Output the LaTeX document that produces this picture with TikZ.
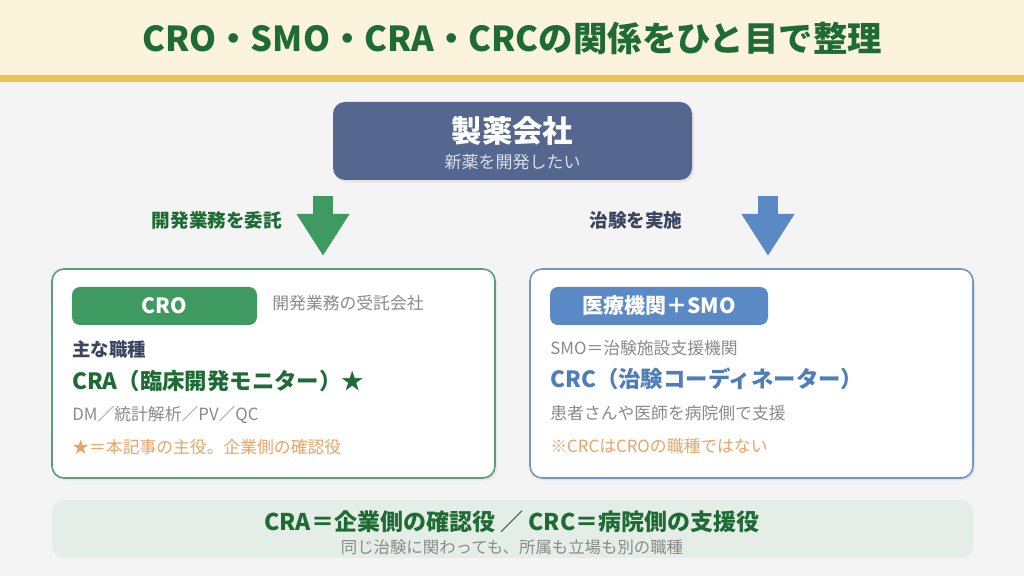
\documentclass[tikz,border=0pt]{standalone}
\usepackage{fontspec}
\setmainfont{Noto Sans CJK JP}
\usepackage{tikz}
\usetikzlibrary{positioning,arrows.meta,shadows}
\definecolor{titlegreen}{HTML}{1F6B36}
\definecolor{headbg}{HTML}{FBF3DB}
\definecolor{headline}{HTML}{EBC453}
\definecolor{pagebg}{HTML}{F3F4F3}
\definecolor{pharma}{HTML}{55668F}
\definecolor{pharmasub}{HTML}{D9DEEA}
\definecolor{crogreen}{HTML}{3F9A62}
\definecolor{smoblue}{HTML}{5B89C5}
\definecolor{inkslate}{HTML}{3A4560}
\definecolor{softgray}{HTML}{8A8A8A}
\definecolor{noteorange}{HTML}{E9A466}
\definecolor{crcblue}{HTML}{4E7DB9}
\definecolor{summarybg}{HTML}{E4EEE6}
\definecolor{cardgreen}{HTML}{5A9E72}
\definecolor{cardblue}{HTML}{7097C8}
\tikzset{
  softshadow/.style={drop shadow={opacity=0.12, shadow xshift=1pt, shadow yshift=-1.2pt}},
  pharmabox/.style={rounded corners=6pt, fill=pharma, minimum width=179.5pt, minimum height=39pt, inner sep=0pt, softshadow},
  cardbox/.style={draw, rounded corners=6pt, fill=white, line width=0.8pt, minimum width=221.5pt, minimum height=104.5pt, inner sep=0pt, softshadow},
  pillbox/.style={rounded corners=4pt, minimum height=19pt, inner sep=0pt, text=white, font=\bfseries\fontsize{10.5}{12}\selectfont},
  summarybox/.style={rounded corners=6pt, fill=summarybg, minimum width=460.5pt, minimum height=29pt, inner sep=0pt},
  bigarrow/.style={line width=10pt, -{Triangle[width=25pt,length=21pt]}},
  flowlabel/.style={inner sep=0pt, font=\bfseries\fontsize{9.3}{11}\selectfont},
  bodytext/.style={anchor=west, inner sep=0pt, text=softgray, font=\fontsize{8.4}{10}\selectfont},
  notetext/.style={bodytext, text=noteorange},
  roletext/.style={anchor=west, inner sep=0pt, font=\bfseries\fontsize{11.2}{13}\selectfont}
}
\begin{document}
\begin{tikzpicture}[x=0.5pt, y=-0.5pt]
  \useasboundingbox (0,0) rectangle (1024,576);
  \fill[pagebg] (0,0) rectangle (1024,576);
  \fill[headbg] (0,0) rectangle (1024,75);
  \fill[headline] (0,75) rectangle (1024,82);
  \node[inner sep=0pt, text=titlegreen, font=\bfseries\fontsize{17.2}{19}\selectfont] (title) at (512,38) {CRO・SMO・CRA・CRCの関係をひと目で整理};

  % sponsor
  \node[pharmabox] (pharma) at (512.5,141) {};
  \node[inner sep=0pt, text=white, font=\bfseries\fontsize{15.2}{17}\selectfont] (pharmaname) at (512.5,131) {製薬会社};
  \node[inner sep=0pt, text=pharmasub, font=\fontsize{8.5}{10}\selectfont] (pharmawish) at (512.5,162) {新薬を開発したい};

  % the two flows
  \coordinate (gtop) at (323,196);
  \coordinate (gtip) at (323,256);
  \coordinate (btop) at (768,196);
  \coordinate (btip) at (768,256);
  \draw[bigarrow, crogreen] (gtop) -- (gtip);
  \draw[bigarrow, smoblue] (btop) -- (btip);
  \node[flowlabel, text=titlegreen] (entrust) at (217,220) {開発業務を委託};
  \node[flowlabel, text=inkslate] (conduct) at (636,220) {治験を実施};

  % CRO card
  \node[cardbox, draw=cardgreen] (crocard) at (273.5,373.5) {};
  \node[pillbox, fill=crogreen, minimum width=92.5pt] (cropill) at (164.5,306) {CRO};
  \node[bodytext] (crodesc) at (272,303) {開発業務の受託会社};
  \node[anchor=west, inner sep=0pt, text=inkslate, font=\bfseries\fontsize{9.2}{11}\selectfont] (jobs) at (72,349) {主な職種};
  \node[roletext, text=titlegreen] (cra) at (72,381) {CRA（臨床開発モニター）★};
  \node[bodytext] (others) at (72,415) {DM／統計解析／PV／QC};
  \node[notetext] (cranote) at (72,447) {★＝本記事の主役。企業側の確認役};

  % site card
  \node[cardbox, draw=cardblue] (sitecard) at (751.5,373.5) {};
  \node[pillbox, fill=smoblue, minimum width=109pt] (sitepill) at (659,306) {医療機関＋SMO};
  \node[bodytext] (smodesc) at (550,348) {SMO＝治験施設支援機関};
  \node[roletext, text=crcblue] (crc) at (550,379) {CRC（治験コーディネーター）};
  \node[bodytext] (crcdesc) at (550,413) {患者さんや医師を病院側で支援};
  \node[notetext] (crcnote) at (550,446) {※CRCはCROの職種ではない};

  % summary
  \node[summarybox] (summary) at (512.5,529) {};
  \node[inner sep=0pt, text=titlegreen, font=\bfseries\fontsize{11.5}{13}\selectfont] (summaryhead) at (512,522) {CRA＝企業側の確認役 ／ CRC＝病院側の支援役};
  \node[inner sep=0pt, text=softgray, font=\fontsize{8.2}{9}\selectfont] (summarysub) at (512,547) {同じ治験に関わっても、所属も立場も別の職種};
\end{tikzpicture}
\end{document}
